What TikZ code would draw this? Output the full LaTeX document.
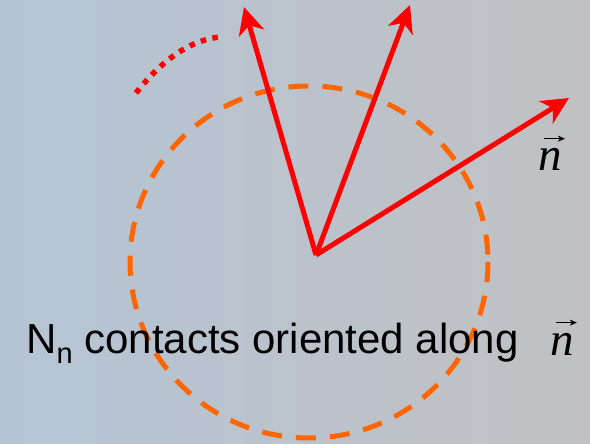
\documentclass[tikz,border=0pt]{standalone}
\usepackage{fontspec}
\setmainfont{Liberation Sans}
\newfontfamily\tnrfont{Liberation Serif}
\usetikzlibrary{arrows.meta}
\definecolor{bgleft}{RGB}{181,196,213}
\definecolor{bgright}{RGB}{193,193,195}
\definecolor{circorange}{RGB}{255,102,0}
\begin{document}
\begin{tikzpicture}[x=1pt,y=-1pt,
  vecarrow/.style={draw=red,line width=5pt,-{Stealth[length=27pt,width=26pt,inset=8pt]}},
  dashcircle/.style={draw=circorange,line width=5pt,dash pattern=on 20pt off 14pt},
  dotarc/.style={draw=red,line width=5.5pt,dash pattern=on 5.5pt off 6.5pt},
  labeltext/.style={font=\fontsize{42}{48}\selectfont,inner sep=0pt,anchor=base west},
  vectext/.style={font=\tnrfont\itshape\fontsize{47}{52}\selectfont,inner sep=0pt,anchor=base west},
  overarrow/.style={draw=black,line width=1.6pt,-{Stealth[length=7pt,width=6pt,inset=2pt]}}]
\shade[left color=bgleft,right color=bgright] (0,0) rectangle (590,444);
\useasboundingbox (0,0) rectangle (590,444);
% dashed circle
\coordinate (cc) at (309,262);
\draw[dashcircle] (cc) ellipse[x radius=179, y radius=176];
% dotted arc
\coordinate (o) at (316,255);
\coordinate (a1) at (136,93);
\coordinate (a2) at (220,37);
\draw[dotarc] (a1) .. controls (162,60) and (190,40) .. (a2);
% arrows
\coordinate (t1) at (244,7);
\coordinate (t2) at (410,5);
\coordinate (t3) at (569,98);
\draw[vecarrow] (o) -- (t1);
\draw[vecarrow] (o) -- (t2);
\draw[vecarrow] (o) -- (t3);
% labels
\node[labeltext] (txt) at (26,353) {N\raisebox{-10pt}{\fontsize{29}{30}\selectfont n} contacts oriented along};
\node[vectext] (nlab) at (538,171) {n};
\draw[overarrow] ([xshift=6pt,yshift=10pt]nlab.north west) -- ([xshift=3pt,yshift=10pt]nlab.north east);
\node[vectext] (nlab2) at (550,355) {n};
\draw[overarrow] ([xshift=6pt,yshift=10pt]nlab2.north west) -- ([xshift=3pt,yshift=10pt]nlab2.north east);
\end{tikzpicture}
\end{document}
